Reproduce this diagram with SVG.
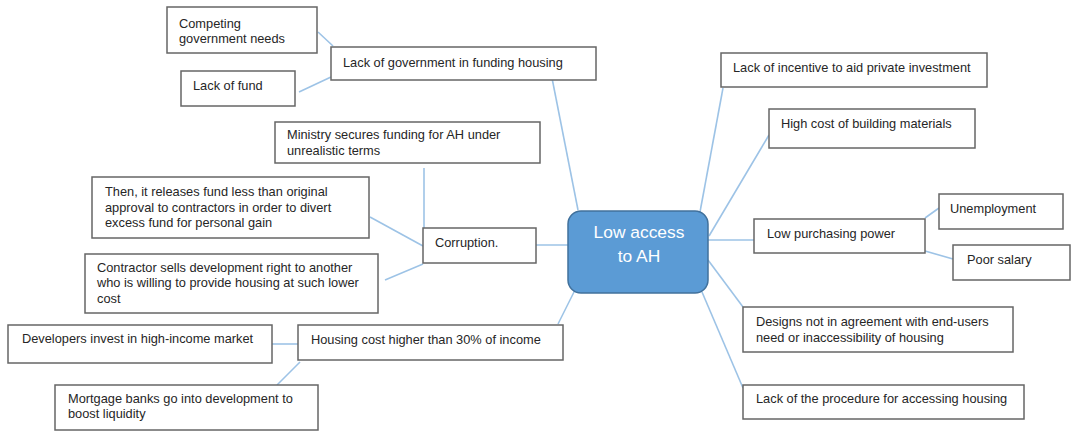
<svg xmlns="http://www.w3.org/2000/svg" width="1074" height="433" viewBox="0 0 1074 433">
  <style>
    .box { fill: #ffffff; stroke: #666666; stroke-width: 1.5; }
    .lbl { font-family: "Liberation Sans", Arial, sans-serif; font-size: 12.8px; fill: #262626; }
    .link { stroke: #9dc3e6; stroke-width: 1.6; fill: none; }
    .hub { fill: #5b9bd5; stroke: #41719c; stroke-width: 1.5; }
    .hubtxt { font-family: "Liberation Sans", Arial, sans-serif; font-size: 17.4px; fill: #ffffff; text-anchor: middle; }
  </style>
  <rect width="1074" height="433" fill="#ffffff"/>

  <!-- connectors -->
  <g id="connectors">
    <line class="link" x1="578" y1="210" x2="552" y2="78"/>
    <line class="link" x1="333" y1="46" x2="318" y2="32"/>
    <line class="link" x1="331" y1="77" x2="299" y2="92"/>
    <line class="link" x1="536" y1="245" x2="569" y2="245"/>
    <line class="link" x1="424" y1="228" x2="424" y2="168"/>
    <line class="link" x1="423" y1="246" x2="370" y2="217"/>
    <line class="link" x1="423" y1="264" x2="385" y2="280"/>
    <line class="link" x1="575" y1="290" x2="558" y2="324"/>
    <line class="link" x1="298" y1="344" x2="272" y2="344"/>
    <line class="link" x1="300" y1="362" x2="277" y2="385"/>
    <line class="link" x1="700" y1="212" x2="723" y2="88"/>
    <line class="link" x1="709" y1="236" x2="769" y2="135"/>
    <line class="link" x1="708" y1="240" x2="754" y2="240"/>
    <line class="link" x1="925" y1="218" x2="939" y2="208"/>
    <line class="link" x1="925" y1="251" x2="953" y2="259"/>
    <line class="link" x1="708" y1="260" x2="743" y2="307"/>
    <line class="link" x1="702" y1="292" x2="743" y2="388"/>
  </g>

  <!-- central topic -->
  <g id="hub">
    <rect class="hub" x="568" y="211" width="140" height="82" rx="13"/>
    <text class="hubtxt" x="639" y="238">Low access</text>
    <text class="hubtxt" x="639" y="262">to AH</text>
  </g>

  <!-- left branches -->
  <g id="competing">
    <rect class="box" x="167" y="7" width="150" height="46"/>
    <text class="lbl" x="179" y="28">Competing</text>
    <text class="lbl" x="179" y="43">government needs</text>
  </g>
  <g id="gov-funding">
    <rect class="box" x="331" y="47" width="265" height="33"/>
    <text class="lbl" x="343" y="67">Lack of government in funding housing</text>
  </g>
  <g id="lack-fund">
    <rect class="box" x="181" y="71" width="114" height="35"/>
    <text class="lbl" x="193" y="90">Lack of fund</text>
  </g>
  <g id="ministry">
    <rect class="box" x="275" y="122" width="265" height="41"/>
    <text class="lbl" x="287" y="139">Ministry secures funding for AH under</text>
    <text class="lbl" x="287" y="155">unrealistic terms</text>
  </g>
  <g id="release-fund">
    <rect class="box" x="92" y="177" width="277" height="61"/>
    <text class="lbl" x="105" y="196">Then, it releases fund less than original</text>
    <text class="lbl" x="105" y="212">approval to contractors in order to divert</text>
    <text class="lbl" x="105" y="227">excess fund for personal gain</text>
  </g>
  <g id="corruption">
    <rect class="box" x="423" y="228" width="113" height="35"/>
    <text class="lbl" x="435" y="247">Corruption.</text>
  </g>
  <g id="contractor">
    <rect class="box" x="85" y="254" width="293" height="59"/>
    <text class="lbl" x="97" y="272">Contractor sells development right to another</text>
    <text class="lbl" x="97" y="287">who is willing to provide housing at such lower</text>
    <text class="lbl" x="97" y="303">cost</text>
  </g>
  <g id="developers">
    <rect class="box" x="8" y="325" width="264" height="38"/>
    <text class="lbl" x="22" y="343">Developers invest in high-income market</text>
  </g>
  <g id="housing-cost">
    <rect class="box" x="298" y="325" width="265" height="35"/>
    <text class="lbl" x="311" y="344">Housing cost higher than 30% of income</text>
  </g>
  <g id="mortgage">
    <rect class="box" x="55" y="385" width="263" height="45"/>
    <text class="lbl" x="68" y="403">Mortgage banks go into development to</text>
    <text class="lbl" x="68" y="418">boost liquidity</text>
  </g>

  <!-- right branches -->
  <g id="incentive">
    <rect class="box" x="721" y="53" width="266" height="34"/>
    <text class="lbl" x="733" y="72">Lack of incentive to aid private investment</text>
  </g>
  <g id="materials">
    <rect class="box" x="769" y="109" width="206" height="39"/>
    <text class="lbl" x="781" y="128">High cost of building materials</text>
  </g>
  <g id="purchasing">
    <rect class="box" x="754" y="219" width="171" height="34"/>
    <text class="lbl" x="767" y="238">Low purchasing power</text>
  </g>
  <g id="unemployment">
    <rect class="box" x="939" y="194" width="124" height="35"/>
    <text class="lbl" x="950" y="213">Unemployment</text>
  </g>
  <g id="salary">
    <rect class="box" x="953" y="245" width="117" height="35"/>
    <text class="lbl" x="967" y="264">Poor salary</text>
  </g>
  <g id="designs">
    <rect class="box" x="743" y="307" width="270" height="45"/>
    <text class="lbl" x="756" y="326">Designs not in agreement with end-users</text>
    <text class="lbl" x="756" y="342">need or inaccessibility of housing</text>
  </g>
  <g id="procedure">
    <rect class="box" x="743" y="385" width="281" height="34"/>
    <text class="lbl" x="756" y="403">Lack of the procedure for accessing housing</text>
  </g>
</svg>
